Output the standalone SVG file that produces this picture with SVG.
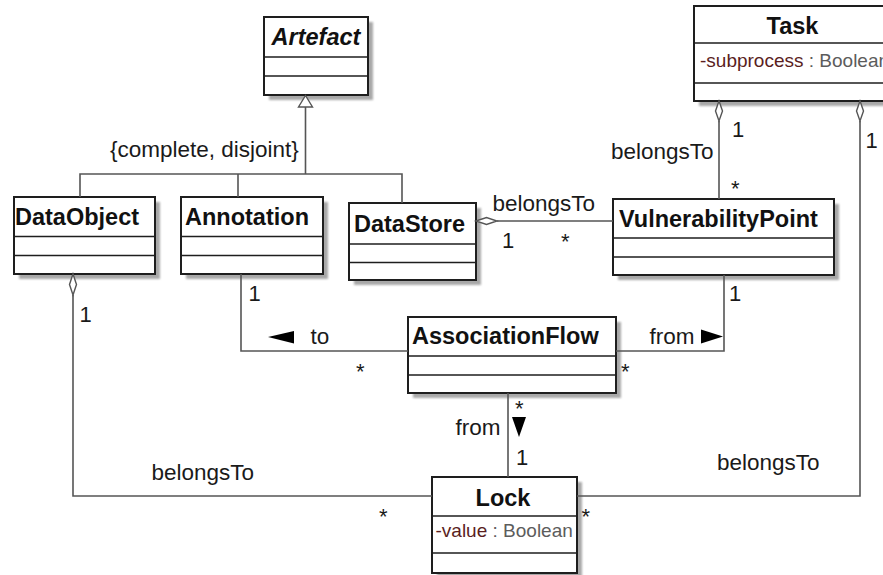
<svg xmlns="http://www.w3.org/2000/svg" width="883" height="575" viewBox="0 0 883 575">
  <style>
    .box { fill: #ffffff; stroke: #1e1e1e; stroke-width: 2; }
    .shadow { fill: #a8a8a8; filter: url(#soft); }
    .div { stroke: #1e1e1e; stroke-width: 1.6; }
    .title { font-family: "Liberation Sans", Arial, sans-serif; font-size: 23.5px; font-weight: bold; fill: #111; }
    .lbl { font-family: "Liberation Sans", Arial, sans-serif; font-size: 22.5px; fill: #1a1a1a; }
    .mult { font-family: "Liberation Sans", Arial, sans-serif; font-size: 22px; fill: #1a1a1a; }
    .attr { font-family: "Liberation Sans", Arial, sans-serif; font-size: 19px; }
    .aname { fill: #5a1e1e; }
    .atype { fill: #5c5c5c; }
    .line { fill: none; stroke: #555; stroke-width: 1.6; }
    .agg { fill: #ffffff; stroke: #555; stroke-width: 1.4; }
    .nav { fill: #000; }
  </style>
  <defs>
    <filter id="soft" x="-10%" y="-10%" width="130%" height="130%">
      <feGaussianBlur stdDeviation="1"/>
    </filter>
  </defs>

  <rect width="883" height="575" fill="#ffffff"/>

  <!-- classes -->
  <g id="artefact">
    <rect class="shadow" x="269" y="22" width="104" height="78"/>
    <rect class="box" x="264" y="17" width="104" height="78"/>
    <line class="div" x1="264" y1="57" x2="368" y2="57"/>
    <line class="div" x1="264" y1="76" x2="368" y2="76"/>
    <text class="title" x="316" y="45" text-anchor="middle" font-style="italic">Artefact</text>
  </g>

  <g id="dataobject">
    <rect class="shadow" x="19" y="202" width="141" height="77"/>
    <rect class="box" x="14" y="197" width="141" height="77"/>
    <line class="div" x1="14" y1="236.5" x2="155" y2="236.5"/>
    <line class="div" x1="14" y1="255.5" x2="155" y2="255.5"/>
    <text class="title" x="15" y="225">DataObject</text>
  </g>

  <g id="annotation">
    <rect class="shadow" x="186" y="202" width="142" height="77"/>
    <rect class="box" x="181" y="197" width="142" height="77"/>
    <line class="div" x1="181" y1="236.5" x2="323" y2="236.5"/>
    <line class="div" x1="181" y1="255.5" x2="323" y2="255.5"/>
    <text class="title" x="185" y="225">Annotation</text>
  </g>

  <g id="datastore">
    <rect class="shadow" x="354" y="208" width="127" height="77"/>
    <rect class="box" x="349" y="203" width="127" height="77"/>
    <line class="div" x1="349" y1="244" x2="476" y2="244"/>
    <line class="div" x1="349" y1="262.5" x2="476" y2="262.5"/>
    <text class="title" x="354" y="232">DataStore</text>
  </g>

  <g id="vulnerabilitypoint">
    <rect class="shadow" x="618" y="204" width="221" height="76"/>
    <rect class="box" x="613" y="199" width="221" height="76"/>
    <line class="div" x1="613" y1="238" x2="834" y2="238"/>
    <line class="div" x1="613" y1="257" x2="834" y2="257"/>
    <text class="title" x="619" y="227">VulnerabilityPoint</text>
  </g>

  <g id="task">
    <rect class="shadow" x="699" y="11" width="197" height="95"/>
    <rect class="box" x="694" y="6" width="197" height="95"/>
    <line class="div" x1="694" y1="43" x2="891" y2="43"/>
    <line class="div" x1="694" y1="83" x2="891" y2="83"/>
    <text class="title" x="792.5" y="34" text-anchor="middle">Task</text>
    <text class="attr" x="700" y="67"><tspan class="aname">-subprocess</tspan><tspan class="atype"> : Boolean</tspan></text>
  </g>

  <g id="associationflow">
    <rect class="shadow" x="413" y="322" width="208" height="76"/>
    <rect class="box" x="408" y="317" width="208" height="76"/>
    <line class="div" x1="408" y1="356" x2="616" y2="356"/>
    <line class="div" x1="408" y1="375" x2="616" y2="375"/>
    <text class="title" x="412" y="344">AssociationFlow</text>
  </g>

  <g id="lock">
    <rect class="shadow" x="437" y="482" width="145" height="96"/>
    <rect class="box" x="432" y="477" width="145" height="96"/>
    <line class="div" x1="432" y1="516" x2="577" y2="516"/>
    <line class="div" x1="432" y1="553" x2="577" y2="553"/>
    <text class="title" x="503" y="506" text-anchor="middle">Lock</text>
    <text class="attr" x="435.5" y="537"><tspan class="aname">-value</tspan><tspan class="atype"> : Boolean</tspan></text>
  </g>

  <!-- connectors -->
  <g id="connectors">
    <!-- generalization to Artefact -->
    <path class="line" d="M305.5,107 V174 M80,197 V174 H402 V203 M238,174 V197"/>
    <path d="M305.5,95.5 L312.5,107 L298.5,107 Z" fill="#fff" stroke="#555" stroke-width="1.4"/>
    <text class="lbl" x="110" y="157">{complete, disjoint}</text>

    <!-- DataStore <>- VulnerabilityPoint -->
    <path class="line" d="M497,221 H613"/>
    <path class="agg" d="M476,221 L486.5,217.5 L497,221 L486.5,224.5 Z"/>
    <text class="lbl" x="492.5" y="211">belongsTo</text>
    <text class="mult" x="502" y="248">1</text>
    <text class="mult" x="561" y="249">*</text>

    <!-- Task <>- VulnerabilityPoint -->
    <path class="line" d="M719,121 V199"/>
    <path class="agg" d="M719,101 L722.5,111 L719,121 L715.5,111 Z"/>
    <text class="mult" x="732" y="137">1</text>
    <text class="lbl" x="611" y="159">belongsTo</text>
    <text class="mult" x="731" y="196">*</text>

    <!-- Annotation - AssociationFlow -->
    <path class="line" d="M241,274 V351 H408"/>
    <text class="mult" x="248.5" y="301">1</text>
    <path class="nav" d="M268,337 L294,331 L294,343.5 Z"/>
    <text class="lbl" x="310.5" y="344">to</text>
    <text class="mult" x="356" y="379">*</text>

    <!-- VulnerabilityPoint - AssociationFlow -->
    <path class="line" d="M724,275 V351 H616"/>
    <text class="mult" x="729" y="301">1</text>
    <text class="lbl" x="649.5" y="344">from</text>
    <path class="nav" d="M723,336.5 L701,329.5 L701,343.5 Z"/>
    <text class="mult" x="621" y="379">*</text>

    <!-- AssociationFlow - Lock -->
    <path class="line" d="M508,393 V477"/>
    <text class="mult" x="515" y="416">*</text>
    <path class="nav" d="M519,437 L512,417 L526,417 Z"/>
    <text class="lbl" x="455.5" y="435">from</text>
    <text class="mult" x="516" y="465">1</text>

    <!-- DataObject <>- Lock -->
    <path class="line" d="M73,295 V496 H432"/>
    <path class="agg" d="M73,274 L76.5,284.5 L73,295 L69.5,284.5 Z"/>
    <text class="mult" x="79.5" y="322">1</text>
    <text class="lbl" x="151.5" y="480">belongsTo</text>
    <text class="mult" x="379" y="524">*</text>

    <!-- Task <>- Lock -->
    <path class="line" d="M860,121 V496 H577"/>
    <path class="agg" d="M860,101 L863.5,111 L860,121 L856.5,111 Z"/>
    <text class="mult" x="865.5" y="148">1</text>
    <text class="lbl" x="717" y="470">belongsTo</text>
    <text class="mult" x="581.5" y="524">*</text>
  </g>
</svg>
